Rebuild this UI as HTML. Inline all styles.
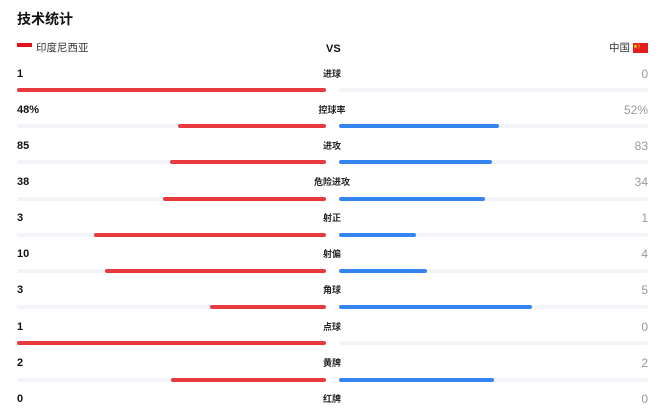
<!DOCTYPE html>
<html><head><meta charset="utf-8">
<style>
*{margin:0;padding:0;box-sizing:border-box}
html,body{width:660px;height:412px;background:#fff;overflow:hidden}
body{position:relative;font-family:"Liberation Sans","Noto Sans CJK SC",sans-serif;color:#222}
.a{position:absolute;white-space:nowrap}
.title{left:17px;top:10px;font-size:14px;line-height:18px;font-weight:bold;color:#111}
.ln{left:17px;font-size:11px;line-height:12px;font-weight:bold;color:#111}
.rn{right:12px;font-size:12px;line-height:12px;color:#999;text-align:right}
.cl{left:282px;width:100px;text-align:center;font-size:9px;line-height:12px;font-weight:bold;color:#222}
.tr{position:absolute;height:4px;border-radius:2px;background:#f3f4f8}
.br{position:absolute;height:4px;border-radius:2px;background:#e8393e}
.bb{position:absolute;height:4px;border-radius:2px;background:#3485f2}
</style></head><body>
<div class="a title">技术统计</div>

<div class="a" style="left:17px;top:43px;width:15px;height:4px;background:#e3101e"></div>
<div class="a" style="left:36px;top:42px;font-size:10.5px;line-height:12px;color:#333">印度尼西亚</div>
<div class="a" style="left:326px;top:43px;font-size:11px;line-height:12px;font-weight:bold;color:#111">VS</div>
<div class="a" style="left:609px;top:42px;font-size:10.5px;line-height:12px;color:#333">中国</div>
<svg class="a" style="left:633px;top:43px" width="15" height="10" viewBox="0 0 15 10">
<rect width="15" height="10" fill="#e41d1d"/>
<polygon points="2.5,1 3.1,2.6 4.7,2.6 3.4,3.6 3.9,5.2 2.5,4.2 1.1,5.2 1.6,3.6 0.3,2.6 1.9,2.6" fill="#ffde00"/>
<circle cx="5.5" cy="1.3" r="0.5" fill="#ffde00"/>
<circle cx="6.3" cy="2.5" r="0.5" fill="#ffde00"/>
<circle cx="6.3" cy="3.9" r="0.5" fill="#ffde00"/>
<circle cx="5.5" cy="5" r="0.5" fill="#ffde00"/>
</svg>

<!-- row 0 -->
<div class="a ln" style="top:67.5px">1</div>
<div class="a cl" style="top:67.5px">进球</div>
<div class="a rn" style="top:67.5px">0</div>
<div class="tr" style="left:17px;width:309px;top:88px"></div>
<div class="tr" style="left:339px;width:309px;top:88px"></div>
<div class="br" style="left:17px;width:309px;top:88px"></div>

<!-- row 1 -->
<div class="a ln" style="top:103.7px">48%</div>
<div class="a cl" style="top:103.7px">控球率</div>
<div class="a rn" style="top:103.7px">52%</div>
<div class="tr" style="left:17px;width:309px;top:124.2px"></div>
<div class="tr" style="left:339px;width:309px;top:124.2px"></div>
<div class="br" style="left:178px;width:148px;top:124.2px"></div>
<div class="bb" style="left:339px;width:160px;top:124.2px"></div>

<!-- row 2 -->
<div class="a ln" style="top:139.8px">85</div>
<div class="a cl" style="top:139.8px">进攻</div>
<div class="a rn" style="top:139.8px">83</div>
<div class="tr" style="left:17px;width:309px;top:160.4px"></div>
<div class="tr" style="left:339px;width:309px;top:160.4px"></div>
<div class="br" style="left:170px;width:156px;top:160.4px"></div>
<div class="bb" style="left:339px;width:153px;top:160.4px"></div>

<!-- row 3 -->
<div class="a ln" style="top:176px">38</div>
<div class="a cl" style="top:176px">危险进攻</div>
<div class="a rn" style="top:176px">34</div>
<div class="tr" style="left:17px;width:309px;top:196.6px"></div>
<div class="tr" style="left:339px;width:309px;top:196.6px"></div>
<div class="br" style="left:163px;width:163px;top:196.6px"></div>
<div class="bb" style="left:339px;width:146px;top:196.6px"></div>

<!-- row 4 -->
<div class="a ln" style="top:212.1px">3</div>
<div class="a cl" style="top:212.1px">射正</div>
<div class="a rn" style="top:212.1px">1</div>
<div class="tr" style="left:17px;width:309px;top:232.8px"></div>
<div class="tr" style="left:339px;width:309px;top:232.8px"></div>
<div class="br" style="left:94px;width:232px;top:232.8px"></div>
<div class="bb" style="left:339px;width:77px;top:232.8px"></div>

<!-- row 5 -->
<div class="a ln" style="top:248.3px">10</div>
<div class="a cl" style="top:248.3px">射偏</div>
<div class="a rn" style="top:248.3px">4</div>
<div class="tr" style="left:17px;width:309px;top:269px"></div>
<div class="tr" style="left:339px;width:309px;top:269px"></div>
<div class="br" style="left:105px;width:221px;top:269px"></div>
<div class="bb" style="left:339px;width:88px;top:269px"></div>

<!-- row 6 -->
<div class="a ln" style="top:284.4px">3</div>
<div class="a cl" style="top:284.4px">角球</div>
<div class="a rn" style="top:284.4px">5</div>
<div class="tr" style="left:17px;width:309px;top:305.2px"></div>
<div class="tr" style="left:339px;width:309px;top:305.2px"></div>
<div class="br" style="left:210px;width:116px;top:305.2px"></div>
<div class="bb" style="left:339px;width:193px;top:305.2px"></div>

<!-- row 7 -->
<div class="a ln" style="top:320.6px">1</div>
<div class="a cl" style="top:320.6px">点球</div>
<div class="a rn" style="top:320.6px">0</div>
<div class="tr" style="left:17px;width:309px;top:341.4px"></div>
<div class="tr" style="left:339px;width:309px;top:341.4px"></div>
<div class="br" style="left:17px;width:309px;top:341.4px"></div>

<!-- row 8 -->
<div class="a ln" style="top:356.7px">2</div>
<div class="a cl" style="top:356.7px">黄牌</div>
<div class="a rn" style="top:356.7px">2</div>
<div class="tr" style="left:17px;width:309px;top:377.6px"></div>
<div class="tr" style="left:339px;width:309px;top:377.6px"></div>
<div class="br" style="left:171px;width:155px;top:377.6px"></div>
<div class="bb" style="left:339px;width:155px;top:377.6px"></div>

<!-- row 9 -->
<div class="a ln" style="top:392.9px">0</div>
<div class="a cl" style="top:392.9px">红牌</div>
<div class="a rn" style="top:392.9px">0</div>
</body></html>
